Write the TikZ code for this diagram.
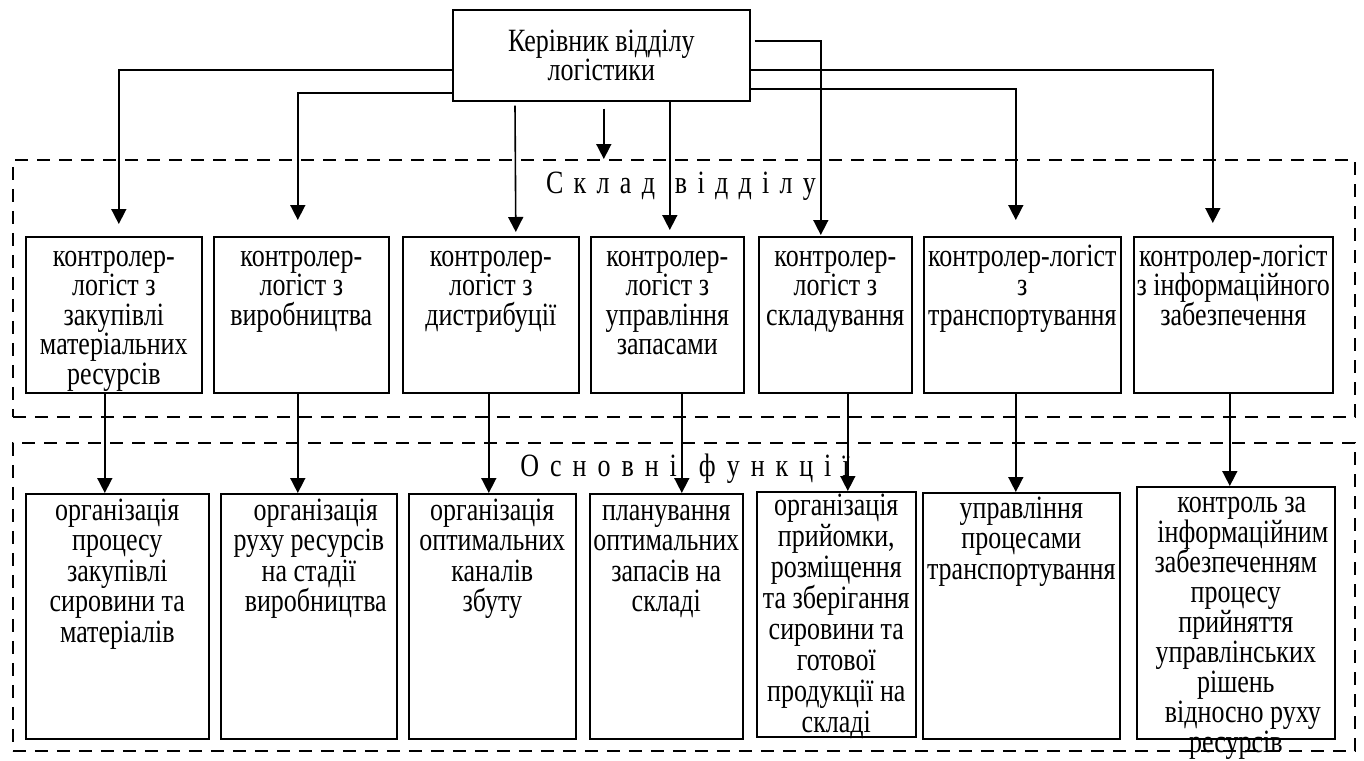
\documentclass[tikz,border=0pt]{standalone}
\usepackage{fontspec}
\setmainfont{Liberation Serif}
\newfontfamily\tallfont[FakeStretch=0.80]{Liberation Serif}
\usetikzlibrary{arrows.meta,calc}
\tikzset{
  box/.style={draw, line width=1.6pt, inner sep=0pt, rectangle},
  frame/.style={draw, line width=1.5pt, dash pattern=on 13pt off 9pt, inner sep=0pt, rectangle},
  txt/.style={font=\tallfont, inner sep=0pt, anchor=base},
  lbl/.style={font=\tallfont\fontsize{32.5}{36}\selectfont, inner sep=0pt, anchor=base},
  arr/.style={-{Triangle[length=15pt,width=15pt]}, line width=1.6pt},
}
\newcommand\bt[2]{\parbox[t]{320pt}{\centering\fontsize{32.5}{#1}\selectfont\lineskiplimit=-100pt\lineskip=0pt #2}}
\def\ls{\kern10.3pt}
\def\lt{\kern11pt}
\begin{document}
\begin{tikzpicture}[x=1pt,y=-1pt]
\useasboundingbox (0,0) rectangle (1364,760);
% frames
\node[frame, anchor=north west, minimum width=1342, minimum height=257] (f1) at (12,159) {};
\node[frame, anchor=north west, minimum width=1342, minimum height=308] (f2) at (12,442) {};
\node[lbl] (l1) at (681,193) {С\ls к\ls л\ls а\ls д\kern20pt в\ls і\ls д\ls д\ls і\ls л\ls у};
\node[lbl] (l2) at (685,476) {О\lt с\lt н\lt о\lt в\lt н\lt і\kern22pt ф\lt у\lt н\lt к\lt ц\lt і\lt ї};
% head
\node[box, anchor=north west, minimum width=297, minimum height=91] (head) at (452,9) {};
\node[txt] (headt) at ($(head.north)+(0,43)$) {\bt{29}{Керівник відділу\\логістики}};
% middle row
\def\boxrow#1#2#3#4#5#6{%
  \node[box, anchor=north west, minimum width={#3-#2}, minimum height={#5-#4}] (#1) at (#2,#4) {};
  \node[txt] (#1t) at ($(#1.north)+(0,30)$) {\bt{29.5}{#6}};}
\boxrow{m1}{25}{201}{236}{392}{контролер-\\логіст з\\закупівлі\\матеріальних\\ресурсів}
\boxrow{m2}{213}{388}{236}{392}{контролер-\\логіст з\\виробництва}
\boxrow{m3}{402}{578}{236}{392}{контролер-\\логіст з\\дистрибуції}
\boxrow{m4}{590}{743}{236}{392}{контролер-\\логіст з\\управління\\запасами}
\boxrow{m5}{758}{911}{236}{392}{контролер-\\логіст з\\складування}
\boxrow{m6}{923}{1120}{236}{392}{контролер-логіст\\з\\транспортування}
\boxrow{m7}{1133}{1332}{236}{392}{контролер-логіст\\з інформаційного\\забезпечення}
% bottom row
\def\brow#1#2#3#4#5#6#7#8{%
  \node[box, anchor=north west, minimum width={#3-#2}, minimum height={#5-#4}] (#1) at (#2,#4) {};
  \node[txt] (#1t) at ($(#1.north)+(0,#6)$) {\bt{#7}{#8}};}
\brow{b1}{25}{208}{493}{738}{27}{30.5}{організація\\процесу\\закупівлі\\сировини та\\матеріалів}
\brow{b2}{220}{396}{493}{738}{27}{30.5}{\hspace*{14pt}організація\\руху ресурсів\\на стадії\\\hspace*{14pt}виробництва}
\brow{b3}{408}{575}{493}{738}{27}{30.5}{організація\\оптимальних\\каналів\\збуту}
\brow{b4}{589}{742}{493}{738}{27}{30.5}{планування\\оптимальних\\запасів на\\складі}
\brow{b5}{756}{915}{491}{736}{24}{31}{організація\\прийомки,\\розміщення\\та зберігання\\сировини та\\готової\\продукції на\\складі}
\brow{b6}{922}{1119}{492}{738}{26}{30.5}{управління\\процесами\\транспортування}
\brow{b7}{1136}{1334}{486}{738}{26}{30.1}{\hspace*{12pt}контроль за\\\hspace*{14pt}інформаційним\\забезпеченням\\процесу\\прийняття\\управлінських\\рішень\\\hspace*{14pt}відносно руху\\ресурсів}
% arrows from head
\draw[arr] ([yshift=-61pt]head.north west) -| ([xshift=5pt,yshift=12pt]m1.north);
\draw[arr] ([yshift=-84pt]head.north west) -| ([xshift=-3.5pt,yshift=16pt]m2.north);
\draw[arr] ([xshift=63pt,yshift=-4pt]head.south west) -- ([xshift=25pt,yshift=4pt]m3.north);
\draw[arr] ([xshift=2.5pt,yshift=-7pt]head.south) -- ([xshift=2.5pt]head.south |- f1.north);
\draw[arr] ([xshift=2.5pt]m4.north |- head.south) -- ([xshift=2.5pt,yshift=6pt]m4.north);
\draw[arr] ([xshift=4pt,yshift=-32pt]head.north east) -| ([xshift=-14.5pt,yshift=1pt]m5.north);
\draw[arr] ([yshift=-61pt]head.north east) -| ([xshift=-20.5pt,yshift=13pt]m7.north);
\draw[arr] ([yshift=-80pt]head.north east) -| ([xshift=-6.5pt,yshift=16pt]m6.north);
% arrows middle -> bottom
\foreach \n/\dx in {1/-9,2/-3.5,3/-2,4/14.5,5/12.5,6/-6.5,7/-3.5}
  \draw[arr] ([xshift=\dx pt]m\n.south) -- ([xshift=\dx pt]m\n.south |- b\n.north);
\end{tikzpicture}
\end{document}
